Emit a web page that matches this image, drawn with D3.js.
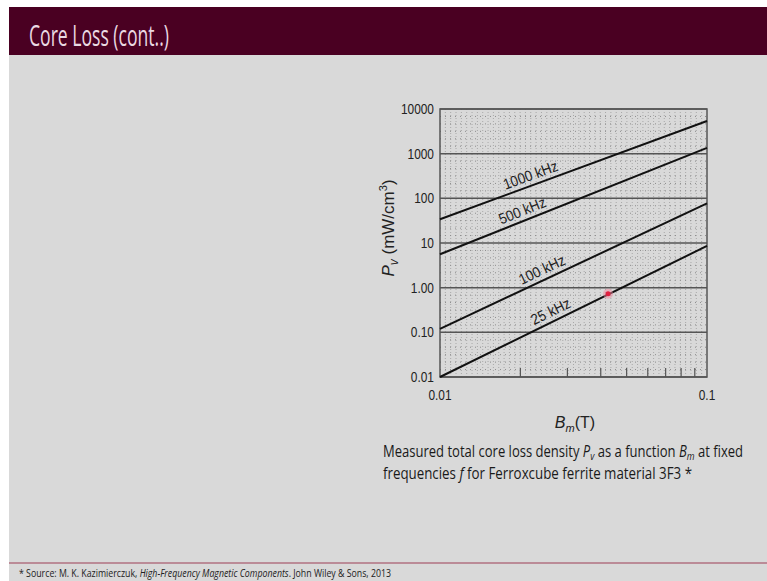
<!DOCTYPE html>
<html>
<head>
<meta charset="utf-8">
<script src="https://cdn.jsdelivr.net/npm/d3@7"></script>
<style>
  body { margin: 0; background: #fff; }
  svg { display: block; }
</style>
</head>
<body>
<div id="slide"></div>
<script>
// frequencies and the loss density read at Bm = 0.01 T and 0.1 T
var freqNames = ["1000 kHz", "500 kHz", "100 kHz", "25 kHz"];
var bmPoints = [0.01, 0.1];
var pv1000 = [34, 5400];
var pv500 = [5.6, 1350];
var pv100 = [0.12, 77];
var pv25 = [0.01, 8.6];
// where along each line its label sits (Bm)
var labelAt = [0.0225, 0.021, 0.025, 0.027];
var yTickValues = [0.01, 0.1, 1, 10, 100, 1000, 10000];
var yTickLabels = ["0.01", "0.10", "1.00", "10", "100", "1000", "10000"];
var xTickLabels = ["0.01", "0.1"];
var minorX = [0.02, 0.03, 0.04, 0.05, 0.06, 0.07, 0.08, 0.09];
var pointer = [0.0426, 0.73];

var W = 767, H = 581;
var svg = d3.select("#slide").append("svg").attr("width", W).attr("height", H);

// squeeze a text a little, the figure uses a narrow sans
function narrow(sel, f) {
	sel.attr("textLength", sel.node().getComputedTextLength() * f).attr("lengthAdjust", "spacingAndGlyphs");
	return sel;
}

// slide background
svg.append("rect").attr("x", 0).attr("y", 0).attr("width", W).attr("height", H).attr("fill", "#ffffff");
svg.append("rect").attr("x", 9).attr("y", 7).attr("width", W - 9).attr("height", H - 7).attr("fill", "#d9d9d9");
svg.append("rect").attr("x", 9).attr("y", 7).attr("width", W - 9).attr("height", 48).attr("fill", "#4a0022");
svg.append("text").attr("x", 29).attr("y", 46).text("Core Loss (cont..)")
	.style("font-family", "'Open Sans', sans-serif").style("font-size", "30px").style("fill", "#ead9e2")
	.attr("textLength", 140).attr("lengthAdjust", "spacingAndGlyphs");

// chart
var pLeft = 440, pRight = 707, pTop = 109, pBottom = 377;
var x = d3.scaleLog().domain([0.01, 0.1]).range([pLeft, pRight]);
var y = d3.scaleLog().domain([0.01, 10000]).range([pBottom, pTop]);
var chart = svg.append("g");

// dotted screen
var nCols = 50;
for (var i = 1; i < nCols; i++) {
	var cx = pLeft + (pRight - pLeft) * i / nCols;
	chart.append("line").attr("x1", cx).attr("x2", cx).attr("y1", pTop).attr("y2", pBottom)
		.style("stroke", "#a8a8a8").style("stroke-width", 1).style("stroke-dasharray", "1,2");
}
var decadePx = (pBottom - pTop) / 6;
for (var d = 0; d < 6; d++) {
	for (var k = 1; k < 6; k++) {
		var ry = pTop + d * decadePx + decadePx * k / 6;
		chart.append("line").attr("x1", pLeft).attr("x2", pRight).attr("y1", ry).attr("y2", ry)
			.style("stroke", "#8c8c8c").style("stroke-width", 1).style("stroke-dasharray", "1,4");
	}
}

// decade lines
yTickValues.forEach(function(v) {
	chart.append("line").attr("x1", pLeft).attr("x2", pRight).attr("y1", y(v)).attr("y2", y(v))
		.style("stroke", "#555").style("stroke-width", 1.5);
});
chart.append("rect").attr("x", pLeft).attr("y", pTop).attr("width", pRight - pLeft).attr("height", pBottom - pTop)
	.attr("fill", "none").style("stroke", "#555").style("stroke-width", 1.5);

// minor ticks on the bottom edge
minorX.forEach(function(v) {
	chart.append("line").attr("x1", x(v)).attr("x2", x(v)).attr("y1", pBottom).attr("y2", pBottom - 9)
		.style("stroke", "#555").style("stroke-width", 1.2);
});

// tick labels
yTickValues.forEach(function(v, i) {
	var t = chart.append("text").attr("x", pLeft - 6).attr("y", y(v)).attr("dy", "0.35em").attr("text-anchor", "end")
		.text(yTickLabels[i]).style("font-family", "'Liberation Sans', Arial, sans-serif").style("font-size", "14px").style("fill", "#222");
	narrow(t, 0.85);
});
bmPoints.forEach(function(v, i) {
	var t = chart.append("text").attr("x", x(v)).attr("y", pBottom + 23).attr("text-anchor", "middle")
		.text(xTickLabels[i]).style("font-family", "'Liberation Sans', Arial, sans-serif").style("font-size", "14px").style("fill", "#222");
	narrow(t, 0.85);
});

// axis titles
var yl = chart.append("text").attr("transform", "translate(394,228) rotate(-90)")
	.attr("text-anchor", "middle").style("font-family", "'Liberation Sans', Arial, sans-serif").style("font-size", "17px").style("fill", "#222");
yl.append("tspan").text("P").style("font-style", "italic");
yl.append("tspan").text("v").style("font-style", "italic").style("font-size", "12px").attr("dy", 4);
yl.append("tspan").text(" (mW/cm").attr("dy", -4);
yl.append("tspan").text("3").style("font-size", "11px").attr("dy", -7);
yl.append("tspan").text(")").attr("dy", 7);

var xl = chart.append("text").attr("x", 575).attr("y", 428).attr("text-anchor", "middle")
	.style("font-family", "'Liberation Sans', Arial, sans-serif").style("font-size", "16px").style("fill", "#222");
xl.append("tspan").text("B").style("font-style", "italic");
xl.append("tspan").text("m").style("font-style", "italic").style("font-size", "11px").attr("dy", 4);
xl.append("tspan").text("(T)").attr("dy", -4);

// the loss lines
var series = [pv1000, pv500, pv100, pv25];
var line = d3.line().x(function(d) { return x(d[0]); }).y(function(d) { return y(d[1]); });
series.forEach(function(s, i) {
	var pts = bmPoints.map(function(b, j) { return [b, s[j]]; });
	chart.append("path").attr("d", line(pts)).attr("fill", "none").style("stroke", "#111").style("stroke-width", 2);

	// label rides along the line
	var slope = Math.log(s[1] / s[0]) / Math.log(bmPoints[1] / bmPoints[0]);
	var lv = s[0] * Math.pow(labelAt[i] / bmPoints[0], slope);
	var ang = Math.atan2(y(s[1]) - y(s[0]), x(bmPoints[1]) - x(bmPoints[0])) * 180 / Math.PI;
	var t = chart.append("text").attr("transform", "translate(" + x(labelAt[i]) + "," + y(lv) + ") rotate(" + ang + ")")
		.attr("y", -5).attr("text-anchor", "middle").text(freqNames[i])
		.style("font-family", "'Liberation Sans', Arial, sans-serif").style("font-size", "15px").style("fill", "#222");
	narrow(t, 0.9);
});

// pointer dot from the lecture
chart.append("circle").attr("cx", x(pointer[0])).attr("cy", y(pointer[1])).attr("r", 5).attr("fill", "#f08aa0").attr("opacity", 0.5);
chart.append("circle").attr("cx", x(pointer[0])).attr("cy", y(pointer[1])).attr("r", 2.5).attr("fill", "#e02040");

// caption
var cap = svg.append("g").style("font-family", "'Open Sans', sans-serif").style("font-size", "16px").style("fill", "#1a1a1a");
var c1 = cap.append("text").attr("x", 383).attr("y", 457).attr("textLength", 360).attr("lengthAdjust", "spacingAndGlyphs");
c1.append("tspan").text("Measured total core loss density ");
c1.append("tspan").text("P").style("font-style", "italic");
c1.append("tspan").text("v").style("font-style", "italic").style("font-size", "11px").attr("dy", 3);
c1.append("tspan").text(" as a function ").attr("dy", -3);
c1.append("tspan").text("B").style("font-style", "italic");
c1.append("tspan").text("m").style("font-style", "italic").style("font-size", "11px").attr("dy", 3);
c1.append("tspan").text(" at fixed").attr("dy", -3);
var c2 = cap.append("text").attr("x", 383).attr("y", 479).attr("textLength", 309).attr("lengthAdjust", "spacingAndGlyphs");
c2.append("tspan").text("frequencies ");
c2.append("tspan").text("f").style("font-style", "italic");
c2.append("tspan").text(" for Ferroxcube ferrite material 3F3 *");

// footer
svg.append("line").attr("x1", 9).attr("x2", W).attr("y1", 563).attr("y2", 563).style("stroke", "#b07080").style("stroke-width", 1.5);
var ft = svg.append("text").attr("x", 19).attr("y", 577).style("font-family", "'Open Sans', sans-serif").style("font-size", "10px").style("fill", "#222")
	.attr("textLength", 372).attr("lengthAdjust", "spacingAndGlyphs");
ft.append("tspan").text("* Source: M. K. Kazimierczuk, ");
ft.append("tspan").text("High-Frequency Magnetic Components").style("font-style", "italic");
ft.append("tspan").text(". John Wiley & Sons, 2013");
</script>
</body>
</html>
